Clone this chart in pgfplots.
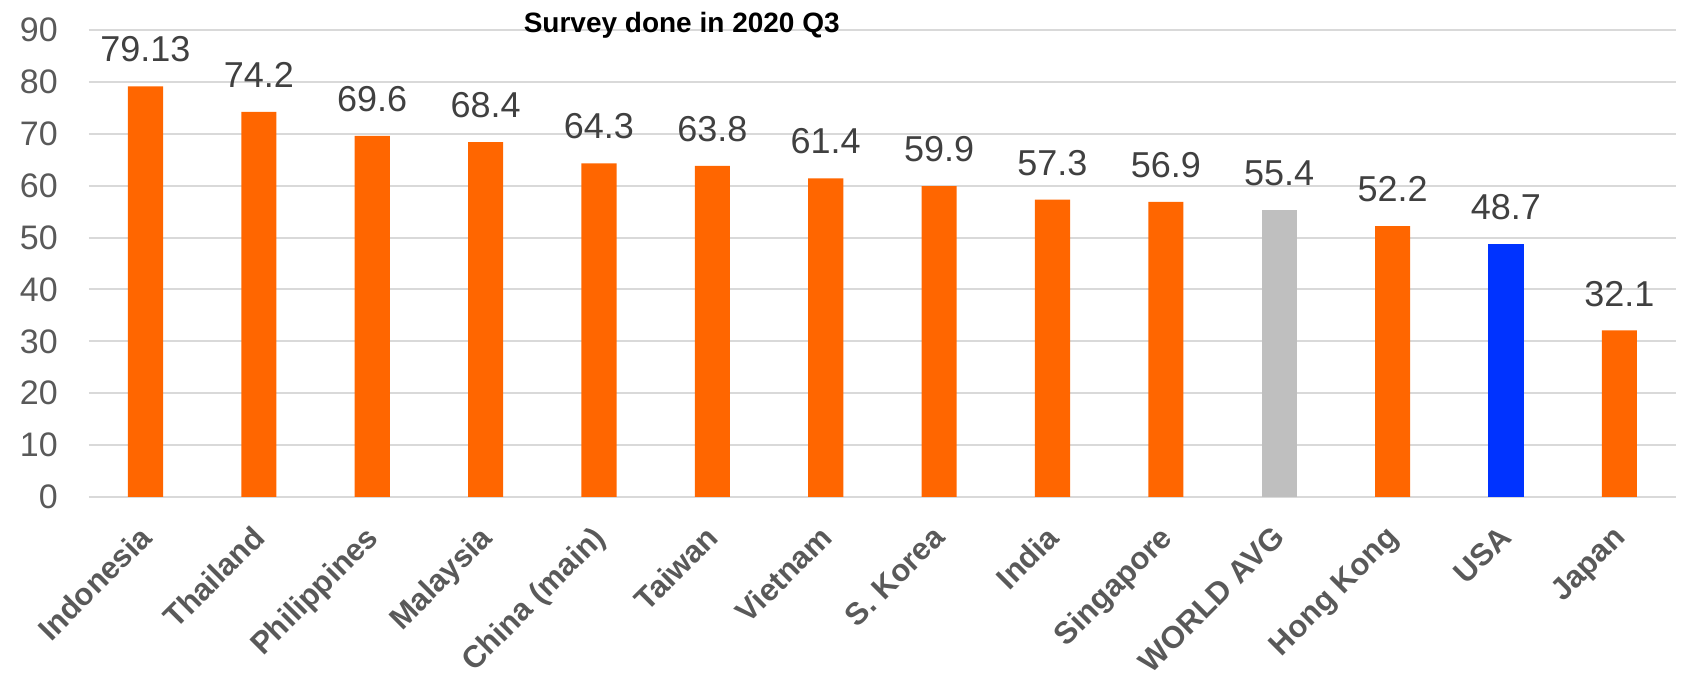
\documentclass[border=0pt]{standalone}
\usepackage{pgfplots}
\pgfplotsset{compat=1.18}
\usepackage{fontspec}
\setmainfont{Liberation Sans}
\definecolor{barorange}{HTML}{FF6600}
\definecolor{bargrey}{HTML}{BFBFBF}
\definecolor{barblue}{HTML}{0033FF}
\definecolor{gridgrey}{HTML}{D9D9D9}
\definecolor{txtgrey}{HTML}{595959}
\definecolor{lblgrey}{HTML}{404040}
\begin{document}
\begin{tikzpicture}
\path[use as bounding box] (0,0) rectangle (841pt,339pt);
\begin{axis}[
  at={(44.4pt,90.5pt)}, anchor=south west,
  scale only axis, width=793.6pt, height=233.5pt,
  ymin=0, ymax=90, ytick={0,10,...,90},
  xmin=-0.5, xmax=13.5,
  xtick={0,...,13},
  xticklabels={Indonesia,Thailand,Philippines,Malaysia,China (main),Taiwan,Vietnam,S. Korea,India,Singapore,WORLD AVG,Hong Kong,USA,Japan},
  x tick label style={xshift=-4pt, yshift=-8.5pt, rotate=45, anchor=north east, font=\fontsize{15.5}{15.5}\selectfont\bfseries, text=txtgrey},
  y tick label style={font=\fontsize{17}{17}\selectfont, text=txtgrey, xshift=-12pt},
  /pgf/number format/assume math mode=true,
  major tick length=0pt,
  ymajorgrids, grid style={gridgrey, line width=1pt},
  axis x line*=bottom, axis y line*=left,
  x axis line style={gridgrey, line width=1pt, -},
  y axis line style={draw=none},
  ybar, bar width=0.31, bar shift=0pt,
  nodes near coords,
  nodes near coords style={font=\fontsize{18}{18}\selectfont, text=lblgrey, yshift=8.5pt},
  clip=false,
]
\addplot[fill=barorange, draw=none] coordinates {(0,79.13) (1,74.2) (2,69.6) (3,68.4) (4,64.3) (5,63.8) (6,61.4) (7,59.9) (8,57.3) (9,56.9) (11,52.2) (13,32.1)};
\addplot[fill=bargrey, draw=none] coordinates {(10,55.4)};
\addplot[fill=barblue, draw=none] coordinates {(12,48.7)};
\node[font=\fontsize{14}{14}\selectfont\bfseries, text=black] at (axis cs:4.73,90.9) {Survey done in 2020 Q3};
\end{axis}
\end{tikzpicture}
\end{document}
